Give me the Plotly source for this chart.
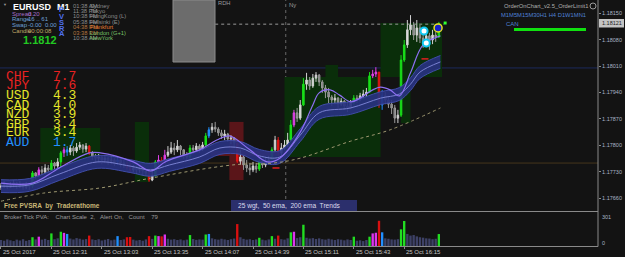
import plotly.graph_objects as go

# ---------------- data ----------------
candle_minutes = list(range(0, 280, 2))   # minutes after 25 Oct 11:59, one candle per 2 minutes
first_open = 1.17689
close = [1.17692, 1.17697, 1.17689, 1.17695, 1.17700, 1.17692, 1.17697, 1.17689, 1.17695, 1.17692,
         1.17727, 1.17719, 1.17735, 1.17729, 1.17740, 1.17735, 1.17753, 1.17745, 1.17756, 1.17780,
         1.17788, 1.17782, 1.17793, 1.17785, 1.17795, 1.17801, 1.17790, 1.17798, 1.17780, 1.17772,
         1.17766, 1.17769, 1.17761, 1.17766, 1.17758, 1.17761, 1.17756, 1.17761, 1.17753, 1.17748,
         1.17740, 1.17735, 1.17740, 1.17735, 1.17740, 1.17732, 1.17727, 1.17708, 1.17719, 1.17756,
         1.17761, 1.17753, 1.17774, 1.17782, 1.17793, 1.17788, 1.17798, 1.17788, 1.17774, 1.17769,
         1.17793, 1.17788, 1.17798, 1.17790, 1.17801, 1.17825, 1.17841, 1.17848, 1.17843, 1.17833,
         1.17825, 1.17830, 1.17817, 1.17819, 1.17806, 1.17758, 1.17769, 1.17748, 1.17740, 1.17735,
         1.17745, 1.17737, 1.17758, 1.17748, 1.17756, 1.17761, 1.17788, 1.17814, 1.17780, 1.17793,
         1.17801, 1.17814, 1.17854, 1.17886, 1.17872, 1.17907, 1.17962, 1.17973, 1.17957, 1.17978,
         1.17986, 1.17968, 1.17952, 1.17941, 1.17928, 1.17920, 1.17925, 1.17909, 1.17917, 1.17904,
         1.17899, 1.17912, 1.17925, 1.17920, 1.17931, 1.17936, 1.17941, 1.17984, 1.17989, 1.17994,
         1.17907, 1.17931, 1.17920, 1.17909, 1.17899, 1.17872, 1.17880, 1.18026, 1.18066, 1.18106,
         1.18119, 1.18092, 1.18111, 1.18084, 1.18074, 1.18090, 1.18079, 1.18092, 1.18087, 1.18121]
high = [1.17700, 1.17705, 1.17700, 1.17703, 1.17708, 1.17703, 1.17705, 1.17700, 1.17703, 1.17700,
        1.17732, 1.17729, 1.17742, 1.17745, 1.17750, 1.17748, 1.17761, 1.17756, 1.17766, 1.17785,
        1.17795, 1.17798, 1.17801, 1.17798, 1.17806, 1.17809, 1.17803, 1.17806, 1.17801, 1.17785,
        1.17777, 1.17777, 1.17774, 1.17774, 1.17769, 1.17772, 1.17766, 1.17769, 1.17766, 1.17761,
        1.17756, 1.17753, 1.17748, 1.17745, 1.17748, 1.17742, 1.17740, 1.17732, 1.17735, 1.17761,
        1.17774, 1.17769, 1.17788, 1.17798, 1.17809, 1.17806, 1.17814, 1.17801, 1.17790, 1.17782,
        1.17801, 1.17801, 1.17806, 1.17803, 1.17809, 1.17833, 1.17848, 1.17859, 1.17862, 1.17848,
        1.17841, 1.17841, 1.17833, 1.17827, 1.17822, 1.17801, 1.17788, 1.17774, 1.17761, 1.17753,
        1.17756, 1.17753, 1.17766, 1.17764, 1.17769, 1.17772, 1.17795, 1.17825, 1.17822, 1.17806,
        1.17814, 1.17833, 1.17867, 1.17894, 1.17899, 1.17920, 1.17978, 1.17992, 1.17981, 1.17989,
        1.17994, 1.17989, 1.17973, 1.17960, 1.17952, 1.17933, 1.17936, 1.17928, 1.17925, 1.17920,
        1.17915, 1.17920, 1.17933, 1.17933, 1.17939, 1.17947, 1.17952, 1.17994, 1.18000, 1.18007,
        1.17994, 1.17947, 1.17941, 1.17931, 1.17920, 1.17907, 1.17894, 1.18039, 1.18079, 1.18132,
        1.18145, 1.18127, 1.18132, 1.18119, 1.18100, 1.18106, 1.18098, 1.18106, 1.18100, 1.18127]
low = [1.17682, 1.17687, 1.17684, 1.17687, 1.17689, 1.17684, 1.17687, 1.17682, 1.17684, 1.17682,
       1.17687, 1.17711, 1.17716, 1.17721, 1.17724, 1.17727, 1.17732, 1.17737, 1.17740, 1.17742,
       1.17769, 1.17772, 1.17774, 1.17772, 1.17780, 1.17788, 1.17780, 1.17782, 1.17774, 1.17761,
       1.17756, 1.17756, 1.17750, 1.17753, 1.17748, 1.17750, 1.17745, 1.17748, 1.17742, 1.17740,
       1.17735, 1.17729, 1.17729, 1.17724, 1.17727, 1.17721, 1.17719, 1.17703, 1.17705, 1.17719,
       1.17748, 1.17748, 1.17753, 1.17769, 1.17777, 1.17774, 1.17782, 1.17774, 1.17764, 1.17761,
       1.17766, 1.17777, 1.17782, 1.17780, 1.17785, 1.17798, 1.17819, 1.17833, 1.17835, 1.17825,
       1.17817, 1.17814, 1.17809, 1.17803, 1.17795, 1.17753, 1.17748, 1.17735, 1.17729, 1.17721,
       1.17729, 1.17727, 1.17732, 1.17740, 1.17742, 1.17750, 1.17753, 1.17782, 1.17772, 1.17774,
       1.17788, 1.17795, 1.17814, 1.17848, 1.17862, 1.17867, 1.17904, 1.17947, 1.17947, 1.17952,
       1.17968, 1.17957, 1.17939, 1.17925, 1.17912, 1.17904, 1.17909, 1.17899, 1.17904, 1.17894,
       1.17888, 1.17896, 1.17907, 1.17912, 1.17917, 1.17923, 1.17928, 1.17939, 1.17978, 1.17981,
       1.17899, 1.17894, 1.17909, 1.17899, 1.17883, 1.17859, 1.17859, 1.17875, 1.18021, 1.18058,
       1.18092, 1.18079, 1.18074, 1.18071, 1.18058, 1.18060, 1.18053, 1.18068, 1.18074, 1.18084]
tick_volume = [55, 48, 60, 52, 45, 58, 50, 62, 47, 55,
               80, 60, 85, 58, 65, 55, 115, 62, 70, 130,
               120, 110, 68, 60, 72, 66, 58, 63, 95, 60,
               55, 62, 50, 57, 64, 52, 58, 90, 55, 60,
               80, 82, 58, 50, 55, 48, 60, 90, 65, 95,
               90, 88, 105, 66, 58, 62, 55, 60, 52, 58,
               100, 64, 56, 60, 58, 105, 110, 70, 62, 58,
               66, 60, 55, 62, 68, 200, 80, 65, 58, 62,
               55, 60, 75, 58, 52, 60, 90, 66, 95, 62,
               58, 70, 125, 130, 72, 80, 194, 75, 68, 72,
               64, 70, 62, 58, 66, 60, 55, 62, 58, 52,
               60, 55, 85, 48, 52, 45, 55, 85, 115, 121,
               230, 125, 70, 66, 60, 58, 62, 152, 228, 110,
               95, 100, 88, 80, 76, 70, 68, 62, 66, 109]
# PVSRA bar classes (indices of candles)
green_bars = [10, 16, 19, 49, 60, 65, 82, 86, 92, 96, 112, 117, 127, 128, 139]
red_bars = [28, 40, 41, 47, 51, 75, 88, 120]
blue_bars = [21, 37, 66, 121]
magenta_bars = [12, 20, 50, 52, 93, 118, 119]

# moving averages (knots)
ema50_minutes = [0, 18, 37, 61, 82, 95, 107, 126, 139, 152, 164, 177, 190, 202, 222, 241, 253, 260, 266, 279]
ema50 = [1.17692, 1.17695, 1.17724, 1.17756, 1.17745, 1.17735, 1.17748, 1.17769, 1.17793, 1.17793,
         1.17772, 1.17769, 1.17827, 1.17886, 1.17899, 1.17925, 1.17936, 1.17962, 1.17994, 1.18021]
envelope = 0.00017
wgt25_minutes = [0, 20, 37, 56, 63, 84, 95, 105, 126, 137, 145, 158, 169, 177, 190, 198, 202, 209,
                 215, 222, 228, 236, 241, 247, 253, 260, 268, 279]
wgt25 = [1.17700, 1.17700, 1.17740, 1.17780, 1.17780, 1.17756, 1.17732, 1.17758, 1.17788, 1.17814,
         1.17825, 1.17788, 1.17756, 1.17766, 1.17835, 1.17907, 1.17939, 1.17947, 1.17933, 1.17915,
         1.17925, 1.17947, 1.17954, 1.17947, 1.17931, 1.17992, 1.18066, 1.18090]
ema200_minutes = [0, 28, 63, 95, 147, 173, 190, 222, 247, 279]
ema200 = [1.17652, 1.17674, 1.17687, 1.17713, 1.17748, 1.17753, 1.17766, 1.17811, 1.17841, 1.17899]

# session boxes: (kind, start minute, end minute, top price, bottom price)
session_boxes = [("green", 25, 63, 1.17846, 1.17756),
                 ("green", 85, 94, 1.17862, 1.17703),
                 ("red", 145, 154, 1.17862, 1.17708),
                 ("red", 133, 177, 1.17785, 1.17772),
                 ("green", 180, 241, 1.17981, 1.17769),
                 ("green", 206, 214, 1.18013, 1.17981),
                 ("green", 241, 280, 1.18124, 1.17981),
                 ("green", 254, 260, 1.17981, 1.17859)]
level_navy = 1.18005
level_brown = 1.17753
ny_minute = 180.8
bid = 1.18121
bid_line_start = 136

order_cyan_minutes = [268.6, 270.0]
order_cyan_prices = [1.18103, 1.18071]
order_main = (277.5, 1.18111)
order_green = (282.0, 1.18124)
red_dash_minutes = [174.6, 269.2]
red_dash_prices = [1.17740, 1.18029]

time_tick_minutes = [0, 32, 64, 96, 128, 160, 192, 224, 256]
time_tick_labels = ["25 Oct 2017", "25 Oct 12:31", "25 Oct 13:03", "25 Oct 13:35", "25 Oct 14:07",
                    "25 Oct 14:39", "25 Oct 15:11", "25 Oct 15:43", "25 Oct 16:15"]
price_ticks = [1.18150, 1.18080, 1.18010, 1.17940, 1.17870, 1.17800, 1.17730, 1.17660]
volume_max = 301

strength_ccy = ["CHF", "JPY", "USD", "CAD", "NZD", "GBP", "EUR", "AUD"]
strength_val = [7.7, 7.6, 4.3, 4.0, 3.9, 3.4, 3.4, 1.7]
session_times = ["01:38 AM", "11:38 PM", "10:38 PM", "05:38 PM", "04:38 PM", "03:38 PM", "10:38 AM"]
session_names = ["Sydney", "Tokyo", "HongKong (L)", "Helsinki (E)", "Frankfurt", "London (G+1)", "NewYork"]
info_labels = ["Spread", "Range", "Swap", "Candle"]
info_values = ["0.20", "16 .. 61", "-0.00  0.00", "00:00:08"]
last_price_text = "1.1812"

# ---------------- layout geometry ----------------
W, H = 625, 257
PR = 598          # right edge of chart area (px)
MAIN_BOT = 211
VOL_TOP, VOL_BOT = 213, 246
BG = "#131313"
FONT = "Liberation Sans, Arial, sans-serif"
MONO = "Liberation Mono, Courier New, monospace"

def pxx(x):
    return x / W

def pxy(y):
    return 1 - y / H

price_top, price_bot = 1.18185, 1.17626

kind = ["n"] * len(close)
for k, idx in (("g", green_bars), ("r", red_bars), ("b", blue_bars), ("m", magenta_bars)):
    for i in idx:
        kind[i] = k
opens = [first_open] + close[:-1]
hi = [max(h, o, c) for h, o, c in zip(high, opens, close)]
lo = [min(l, o, c) for l, o, c in zip(low, opens, close)]

fig = go.Figure()

# EMA band (50 ema envelope)
band_up = [v + envelope for v in ema50]
band_dn = [v - envelope for v in ema50]
fig.add_trace(go.Scatter(x=ema50_minutes, y=band_up, mode="lines", line=dict(color="#3f4ca6", width=1, shape="spline"),
                         hoverinfo="skip", showlegend=False))
fig.add_trace(go.Scatter(x=ema50_minutes, y=band_dn, mode="lines", line=dict(color="#3f4ca6", width=1, shape="spline"),
                         fill="tonexty", fillcolor="rgba(40,50,128,0.92)", hoverinfo="skip", showlegend=False))
fig.add_trace(go.Scatter(x=ema50_minutes, y=ema50, mode="lines", line=dict(color="#7880d0", width=1, shape="spline"),
                         hoverinfo="skip", showlegend=False))

# candles per PVSRA class
styles = {
    "n": (("#d0d0d0", "#e2e2e2"), ("#9a9a9a", "#7c7c7c")),
    "g": (("#19e019", "#19e019"), ("#19e019", "#19e019")),
    "r": (("#e01414", "#e01414"), ("#e01414", "#e01414")),
    "b": (("#2090ff", "#2090ff"), ("#2090ff", "#2090ff")),
    "m": (("#e040e8", "#e040e8"), ("#e040e8", "#e040e8")),
}
for k, ((il, ifl), (dl, dfl)) in styles.items():
    idx = [i for i in range(len(close)) if kind[i] == k]
    if not idx:
        continue
    fig.add_trace(go.Candlestick(
        x=[candle_minutes[i] for i in idx], open=[opens[i] for i in idx], high=[hi[i] for i in idx],
        low=[lo[i] for i in idx], close=[close[i] for i in idx],
        increasing=dict(line=dict(color=il, width=1), fillcolor=ifl),
        decreasing=dict(line=dict(color=dl, width=1), fillcolor=dfl),
        whiskerwidth=0, hoverinfo="skip", showlegend=False, xaxis="x", yaxis="y"))

# 25 wgt and 200 ema
fig.add_trace(go.Scatter(x=wgt25_minutes, y=wgt25, mode="lines", line=dict(color="#8d6ff2", width=1.2, shape="spline"),
                         hoverinfo="skip", showlegend=False))
fig.add_trace(go.Scatter(x=ema200_minutes, y=ema200, mode="lines",
                         line=dict(color="#9e9870", width=1, dash="dot", shape="spline"),
                         hoverinfo="skip", showlegend=False))

# order objects
fig.add_trace(go.Scatter(x=red_dash_minutes, y=red_dash_prices, mode="markers",
                         marker=dict(symbol="line-ew", size=5, line=dict(color="#e02020", width=1.5)),
                         hoverinfo="skip", showlegend=False))
fig.add_trace(go.Scatter(x=order_cyan_minutes, y=order_cyan_prices, mode="markers",
                         marker=dict(symbol="circle", size=7, color="#ffffff", line=dict(color="#10c8f0", width=2)),
                         hoverinfo="skip", showlegend=False))
fig.add_trace(go.Scatter(x=[order_main[0]], y=[order_main[1]], mode="markers",
                         marker=dict(symbol="circle", size=8, color="#1420c8", line=dict(color="#e8e020", width=1.5)),
                         hoverinfo="skip", showlegend=False))
fig.add_trace(go.Scatter(x=[order_green[0]], y=[order_green[1]], mode="markers",
                         marker=dict(symbol="square", size=3, color="#30ff30"),
                         hoverinfo="skip", showlegend=False))

# volume panel
vcol = {"n": "#3d4166", "g": "#22dd22", "r": "#d81010", "b": "#2090ff", "m": "#dd33ee"}
fig.add_trace(go.Bar(x=candle_minutes, y=tick_volume, marker=dict(color=[vcol[k] for k in kind], line=dict(width=0)),
                     width=1.5, xaxis="x2", yaxis="y2", hoverinfo="skip", showlegend=False))

# ---------------- shapes ----------------
shapes = []
box_fill = {"green": "#0a2e0a", "red": "#5a1519"}
for kd, m0, m1, top, bot in session_boxes:
    shapes.append(dict(type="rect", xref="x", yref="y", x0=m0, x1=m1, y0=bot, y1=top,
                       fillcolor=box_fill[kd], line=dict(width=0), layer="below"))
shapes.append(dict(type="line", xref="paper", yref="y", x0=0, x1=pxx(PR), y0=level_navy, y1=level_navy,
                   line=dict(color="#1c2a5c", width=1), layer="below"))
shapes.append(dict(type="line", xref="paper", yref="y", x0=0, x1=pxx(PR), y0=level_brown, y1=level_brown,
                   line=dict(color="#45361c", width=1), layer="below"))
shapes.append(dict(type="line", xref="x", yref="y", x0=bid_line_start, x1=281, y0=bid, y1=bid,
                   line=dict(color="#9a9a9a", width=1, dash="dot"), layer="below"))
shapes.append(dict(type="line", xref="x", yref="paper", x0=ny_minute, x1=ny_minute, y0=pxy(MAIN_BOT), y1=1,
                   line=dict(color="#6a6a6a", width=1, dash="dot"), layer="below"))
# grey object box top-left
shapes.append(dict(type="rect", xref="paper", yref="paper", x0=pxx(173), x1=pxx(215), y0=pxy(62), y1=pxy(0),
                   fillcolor="#6c6c6c", line=dict(color="#8c8c8c", width=1)))
# trend label box
shapes.append(dict(type="rect", xref="paper", yref="paper", x0=pxx(231), x1=pxx(357), y0=pxy(211), y1=pxy(200),
                   fillcolor="#2b2f6c", line=dict(width=0)))
# panel borders
shapes.append(dict(type="line", xref="paper", yref="paper", x0=0, x1=pxx(PR), y0=pxy(211.5), y1=pxy(211.5),
                   line=dict(color="#8a8a8a", width=1)))
shapes.append(dict(type="line", xref="paper", yref="paper", x0=0, x1=pxx(PR), y0=pxy(246.5), y1=pxy(246.5),
                   line=dict(color="#8a8a8a", width=1)))
shapes.append(dict(type="line", xref="paper", yref="paper", x0=pxx(PR), x1=pxx(PR), y0=pxy(246.5), y1=1,
                   line=dict(color="#8a8a8a", width=1)))
# CAN strength bar
shapes.append(dict(type="rect", xref="paper", yref="paper", x0=pxx(514), x1=pxx(586), y0=pxy(31), y1=pxy(28),
                   fillcolor="#10e010", line=dict(width=0)))
# icon circle
shapes.append(dict(type="circle", xref="paper", yref="paper", x0=pxx(590), x1=pxx(596), y0=pxy(9), y1=pxy(3),
                   line=dict(color="#9a9a9a", width=1)))
# bid price highlight box on axis
shapes.append(dict(type="rect", xref="paper", yref="paper", x0=pxx(599), x1=pxx(624), y0=pxy(27.5), y1=pxy(19),
                   fillcolor="#c4c4c4", line=dict(width=0)))

# ---------------- text ----------------
ann = []

def T(x, y, s, color, size, anchor="left", family=FONT):
    ann.append(dict(x=pxx(x), y=pxy(y), xref="paper", yref="paper", text=s, showarrow=False,
                    xanchor=anchor, yanchor="middle", borderpad=0,
                    font=dict(color=color, size=size, family=family)))

T(1.5, 4.5, "▼", "#9a9a9a", 4)
T(12, 6.5, "<b>EURUSD</b>", "#ffffff", 9)
T(56, 6.5, "<b>M1</b>", "#ffffff", 9)
info_colors = ["#a66fc8", "#6fa0d8", "#6fa0d8", "#c0a868"]
for i, (lab, val) in enumerate(zip(info_labels, info_values)):
    yy = [14, 19.5, 25, 31][i]
    T(11, yy, lab, info_colors[i], 6)
    T(27, yy, val, info_colors[i], 6)
T(22, 39.5, "<b>" + last_price_text + "</b>", "#22c822", 11)
for j, ch in enumerate("PVSRA"):
    T(61.5, 10 + 6 * j, "<b>" + ch + "</b>", "#5070f0", 7.5, anchor="center")
time_cols = ["#8c8c8c", "#8c8c8c", "#8c8c8c", "#8c8c8c", "#b47440", "#b47440", "#8c8c8c"]
name_cols = ["#8c8c8c", "#8c8c8c", "#8c8c8c", "#8c8c8c", "#e07a30", "#78c068", "#78c068"]
for i, (tt, nm) in enumerate(zip(session_times, session_names)):
    yy = [5.7, 10.9, 16.2, 21.5, 27.0, 32.6, 38.2][i]
    T(72, yy, tt, time_cols[i], 5.8)
    T(89, yy, nm, name_cols[i], 5.8)

T(217, 3.5, "RDH", "#9a9a9a", 5.8)
T(287.5, 4.5, "Ny", "#9a9a9a", 6)

row_y = [76, 85.3, 95, 105, 114.6, 124, 132.8, 142]
for i, (c, v) in enumerate(zip(strength_ccy, strength_val)):
    col = "#e82222" if v >= 5 else ("#e6e62a" if v >= 2 else "#2290ff")
    T(5, row_y[i], c, col, 13, family=MONO)
    T(52, row_y[i], "%.1f" % v, col, 13, family=MONO)

T(589, 6.3, "OrderOnChart_v2.5_OrderLimit1", "#b0b0b0", 5.8, anchor="right")
T(587, 15, "M1M5M15M30H1 H4 D1W1MN1", "#4f80d4", 5.8, anchor="right")
T(505, 23.5, "CAN", "#4f80d4", 6)
T(611.5, 23.3, "1.18121", "#1c1c1c", 5.5, anchor="center")

T(3, 206, "<b>Free PVSRA  by  Traderathome</b>", "#c8b676", 6.5)
T(237, 206, "25 wgt,  50 ema,  200 ema  Trends", "#dcdcec", 6.6)
T(3, 217, "Broker Tick PVA:    Chart Scale  2,   Alert On,   Count    79", "#9a9a9a", 6)
T(601, 217, str(volume_max), "#a8b4c8", 5.5)
T(601, 243, "0", "#a8b4c8", 5.5)

for m, lab in zip(time_tick_minutes, time_tick_labels):
    ann.append(dict(x=m, y=pxy(251.5), xref="x2", yref="paper", text=lab, showarrow=False,
                    xanchor="left", yanchor="middle", xshift=1, borderpad=0,
                    font=dict(color="#c4c4c4", size=6, family=FONT)))

xr = [-0.63, (PR - 1) / 1.575]
fig.update_layout(
    width=W, height=H, margin=dict(l=0, r=0, t=0, b=0),
    paper_bgcolor=BG, plot_bgcolor=BG, showlegend=False, hovermode=False,
    boxmode="overlay",
    xaxis=dict(domain=[0, pxx(PR)], range=xr, anchor="y", showgrid=False, zeroline=False,
               showticklabels=False, showline=False, rangeslider=dict(visible=False), fixedrange=True),
    yaxis=dict(domain=[pxy(MAIN_BOT), 1], range=[price_bot, price_top], side="right", anchor="x",
               tickvals=price_ticks, ticktext=["%.5f" % p for p in price_ticks],
               ticks="outside", ticklen=2, tickcolor="#8a8a8a",
               tickfont=dict(size=5.5, color="#a8b4c8", family=FONT),
               showgrid=False, zeroline=False, showline=False),
    xaxis2=dict(domain=[0, pxx(PR)], range=xr, anchor="y2", matches="x", showgrid=False, zeroline=False,
                tickvals=time_tick_minutes, ticks="outside", ticklen=2, tickcolor="#8a8a8a",
                showticklabels=False, showline=False),
    yaxis2=dict(domain=[pxy(VOL_BOT), pxy(VOL_TOP)], range=[0, volume_max], side="right", anchor="x2",
                showticklabels=False, showgrid=False, zeroline=False, showline=False, ticks=""),
    shapes=shapes, annotations=ann,
)

fig.write_html("out.html")
